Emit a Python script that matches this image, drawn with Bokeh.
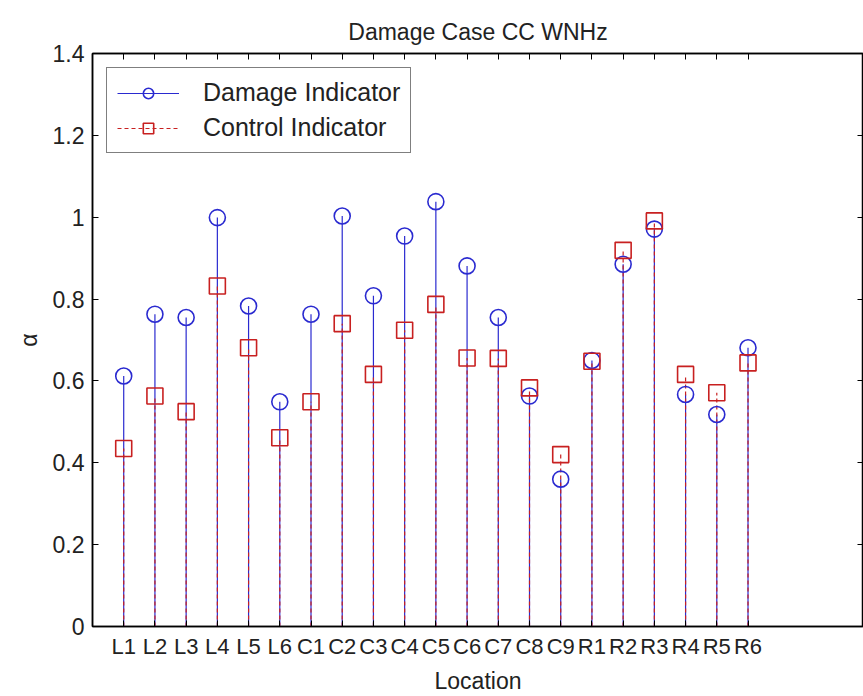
from bokeh.plotting import figure
from bokeh.models import FixedTicker, LinearAxis, Range1d, Legend, LegendItem, ColumnDataSource
from bokeh.embed import file_html
from bokeh.resources import INLINE

locations = ["L1", "L2", "L3", "L4", "L5", "L6",
             "C1", "C2", "C3", "C4", "C5", "C6", "C7", "C8", "C9",
             "R1", "R2", "R3", "R4", "R5", "R6"]
damage = [0.612, 0.763, 0.755, 0.999, 0.783, 0.549,
          0.763, 1.003, 0.808, 0.954, 1.038, 0.881, 0.755, 0.563, 0.36,
          0.65, 0.885, 0.971, 0.567, 0.518, 0.681]
control = [0.435, 0.563, 0.525, 0.832, 0.681, 0.461,
           0.549, 0.740, 0.616, 0.724, 0.787, 0.656, 0.655, 0.583, 0.420,
           0.648, 0.919, 0.991, 0.616, 0.571, 0.644]
positions = list(range(1, len(locations) + 1))
yticks = [0, 0.2, 0.4, 0.6, 0.8, 1.0, 1.2, 1.4]
ytick_labels = ["0", "0.2", "0.4", "0.6", "0.8", "1", "1.2", "1.4"]

BLUE = "#2a2ad0"
RED = "#c82020"
FONT = "Liberation Sans"
FS = "23px"
TXT = "#222222"

src = ColumnDataSource(dict(x=positions, d=damage, c=control, zero=[0] * len(positions)))

p = figure(width=863, height=696, output_backend="svg", toolbar_location=None,
           x_range=Range1d(0, 24.7), y_range=Range1d(0, 1.4),
           min_border_left=92, min_border_right=0, min_border_top=53, min_border_bottom=60,
           title="Damage Case CC WNHz")
p.title.align = "center"
p.title.text_font = FONT
p.title.text_font_size = "23px"
p.title.text_font_style = "normal"
p.title.text_color = TXT
p.title.standoff = 18

p.xgrid.visible = False
p.ygrid.visible = False
p.outline_line_color = "black"
p.outline_line_width = 1.5

xa = p.xaxis[0]
xa.ticker = FixedTicker(ticks=positions)
xa.major_label_overrides = {i: lab for i, lab in zip(positions, locations)}
xa.axis_label = "Location"
ya = p.yaxis[0]
ya.ticker = FixedTicker(ticks=yticks)
ya.major_label_overrides = {t: lab for t, lab in zip(yticks, ytick_labels)}
ya.axis_label = "α"

for ax in (xa, ya):
    ax.major_label_text_font = FONT
    ax.major_label_text_font_size = FS
    ax.major_label_text_color = TXT
    ax.axis_label_text_font = FONT
    ax.axis_label_text_font_size = "23px"
    ax.axis_label_text_font_style = "normal"
    ax.axis_label_text_color = TXT
    ax.major_tick_in = 6
    ax.major_tick_out = 0
    ax.minor_tick_line_color = None
    ax.axis_line_width = 1.5
    ax.major_label_standoff = 8
    ax.axis_label_standoff = 8
xa.major_label_text_font_size = "22px"
xa.major_label_standoff = 7
xa.axis_label_standoff = 6

top = LinearAxis(ticker=FixedTicker(ticks=positions),
                 major_label_overrides={i: "" for i in positions},
                 major_tick_in=6, major_tick_out=0, minor_tick_line_color=None,
                 major_label_standoff=0, axis_line_width=1.5)
right = LinearAxis(ticker=FixedTicker(ticks=yticks),
                   major_label_overrides={t: "" for t in yticks},
                   major_tick_in=6, major_tick_out=0, minor_tick_line_color=None,
                   major_label_standoff=0, axis_line_width=1.5)
p.add_layout(top, "above")
p.add_layout(right, "right")

seg_d = p.segment(x0="x", y0="zero", x1="x", y1="d", source=src, line_color=BLUE, line_width=1.2)
seg_c = p.segment(x0="x", y0="zero", x1="x", y1="c", source=src, line_color=RED, line_width=1.2,
                  line_dash="4 3")
mk_d = p.scatter(x="x", y="d", source=src, marker="circle", size=16, fill_color=None,
                 line_color=BLUE, line_width=1.6)
mk_c = p.scatter(x="x", y="c", source=src, marker="square", size=16, fill_color=None,
                 line_color=RED, line_width=1.6)

legend = Legend(items=[LegendItem(label="Damage Indicator", renderers=[seg_d, mk_d]),
                       LegendItem(label="Control Indicator", renderers=[seg_c, mk_c])],
                location="top_left")
legend.label_text_font = FONT
legend.label_text_font_size = "25px"
legend.label_text_color = TXT
legend.glyph_width = 62
legend.glyph_height = 26
legend.label_height = 26
legend.label_standoff = 24
legend.spacing = 6
legend.padding = 10
legend.margin = 14
legend.border_line_color = "black"
legend.border_line_width = 1.5
p.add_layout(legend)

open("out.html", "w").write(file_html(p, INLINE))
